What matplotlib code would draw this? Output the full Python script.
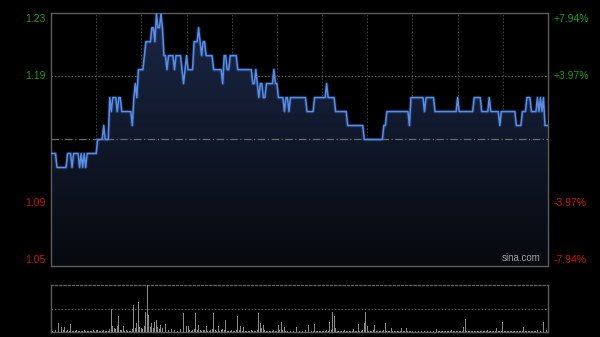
import numpy as np
import matplotlib
matplotlib.use("Agg")
import matplotlib.pyplot as plt
from matplotlib.colors import LinearSegmentedColormap

# === Data (one trading day, 1-minute steps, 330 minutes) ===
prev_close = 1.14
pct_levels = [7.94, 3.97, -3.97, -7.94]
price_labels = ["1.23", "1.19", "1.09", "1.05"]
pct_labels = ["+7.94%", "+3.97%", "-3.97%", "-7.94%"]

# price as runs: level, number of minutes
price_levels = [1.13, 1.12, 1.13, 1.12, 1.13, 1.12, 1.13, 1.12, 1.13, 1.12,
                1.13, 1.14, 1.15, 1.14, 1.17, 1.16, 1.17, 1.16, 1.17, 1.16,
                1.15, 1.17, 1.18, 1.17, 1.19, 1.20, 1.21, 1.22, 1.21, 1.23,
                1.22, 1.23, 1.22, 1.20, 1.19, 1.20, 1.19, 1.20, 1.19, 1.18,
                1.19, 1.20, 1.19, 1.21, 1.22, 1.21, 1.20, 1.21, 1.20, 1.19,
                1.18, 1.20, 1.19, 1.20, 1.19, 1.18, 1.19, 1.18, 1.17, 1.18,
                1.17, 1.18, 1.19, 1.18, 1.17, 1.16, 1.17, 1.16, 1.17, 1.16,
                1.17, 1.18, 1.17, 1.16, 1.15, 1.14, 1.15, 1.16, 1.15, 1.17,
                1.16, 1.17, 1.16, 1.17, 1.16, 1.17, 1.16, 1.17, 1.16, 1.15,
                1.16, 1.15, 1.16, 1.17, 1.16, 1.17, 1.16, 1.17, 1.16, 1.17,
                1.15]
price_runs = [4, 7, 3, 1, 4, 1, 1, 1, 1, 1,
              7, 4, 1, 3, 1, 1, 3, 1, 2, 7,
              1, 1, 1, 1, 4, 1, 4, 2, 1, 1,
              2, 1, 1, 2, 1, 4, 1, 4, 1, 1,
              1, 1, 4, 3, 1, 1, 1, 2, 5, 6,
              1, 2, 2, 5, 10, 2, 1, 1, 1, 2,
              2, 5, 1, 2, 4, 1, 2, 1, 11, 5,
              8, 1, 5, 8, 11, 13, 2, 15, 1, 9,
              1, 6, 15, 1, 10, 5, 5, 1, 6, 1,
              10, 4, 3, 3, 4, 1, 1, 1, 1, 1,
              3]

# volume per minute (relative units, max = 100)
volume = [27, 3, 2, 4, 3, 19, 3, 11, 4, 11,
          3, 5, 2, 17, 3, 2, 3, 4, 2, 3,
          2, 3, 4, 2, 3, 2, 3, 2, 4, 3,
          5, 4, 3, 2, 3, 4, 3, 2, 3, 6,
          50, 12, 8, 6, 12, 34, 5, 4, 12, 3,
          4, 3, 2, 3, 6, 57, 8, 20, 63, 10,
          8, 6, 12, 43, 100, 36, 10, 20, 8, 22,
          25, 10, 6, 15, 8, 61, 18, 6, 5, 12,
          6, 12, 4, 5, 3, 4, 6, 5, 40, 6,
          13, 13, 4, 3, 5, 6, 40, 5, 15, 4,
          3, 5, 4, 12, 3, 2, 4, 6, 41, 5,
          3, 12, 3, 4, 6, 4, 26, 3, 2, 3,
          4, 2, 3, 5, 34, 4, 12, 3, 10, 3,
          2, 3, 2, 4, 3, 2, 3, 5, 41, 20,
          8, 15, 4, 3, 2, 3, 2, 3, 4, 2,
          3, 15, 4, 22, 5, 10, 3, 2, 4, 3,
          15, 3, 2, 10, 3, 2, 3, 2, 3, 4,
          3, 15, 3, 2, 3, 16, 3, 2, 3, 2,
          3, 2, 3, 4, 3, 22, 4, 43, 35, 8,
          3, 2, 3, 2, 3, 4, 2, 3, 2, 3,
          2, 6, 3, 2, 16, 3, 2, 4, 20, 43,
          13, 3, 2, 3, 4, 14, 3, 2, 3, 2,
          3, 4, 20, 3, 2, 3, 8, 2, 3, 2,
          3, 2, 3, 9, 2, 3, 8, 2, 3, 2,
          3, 2, 3, 2, 3, 2, 3, 2, 3, 2,
          3, 14, 2, 3, 2, 3, 6, 2, 3, 2,
          3, 2, 3, 2, 3, 2, 4, 2, 3, 2,
          3, 2, 3, 2, 10, 27, 3, 2, 3, 2,
          3, 2, 3, 2, 3, 2, 3, 2, 3, 2,
          4, 2, 3, 2, 3, 2, 8, 2, 3, 2,
          22, 3, 2, 3, 2, 3, 2, 3, 2, 3,
          2, 3, 2, 3, 10, 2, 3, 2, 3, 2,
          3, 2, 3, 4, 6, 3, 8, 22, 14, 4,
          3]

price = np.repeat(price_levels, price_runs)
minutes = np.arange(len(price))
n_min = 330

hi = prev_close * (1 + pct_levels[0] / 100)
lo = prev_close * (1 + pct_levels[-1] / 100)

fig = plt.figure(figsize=(6, 3.37), dpi=100, facecolor="black")
ax = fig.add_axes([51 / 600, 1 - 266 / 337, 497 / 600, 253 / 337])
axv = fig.add_axes([51 / 600, 1 - 332 / 337, 497 / 600, 47 / 337])

green = "#0ea00e"
red = "#d01010"

# --- price panel ---
ax.set_facecolor("black")
ax.set_xlim(0, n_min)
ax.set_ylim(lo, hi)

for m in range(30, n_min, 30):
    ax.axvline(m, color="#3a3a3a", lw=0.8, ls=(0, (1.5, 1.5)), zorder=1)
for p in pct_levels[1:3]:
    ax.axhline(prev_close * (1 + p / 100), color="#5a5a5a", lw=0.8,
               ls=(0, (1.5, 1.5)), zorder=1)
ax.axhline(prev_close, color="#6a6a6a", lw=0.9, ls=(0, (6, 2, 1, 2)), zorder=3)

# gradient fill under the line
poly = ax.fill_between(minutes, price, lo, color="none")
cmap = LinearSegmentedColormap.from_list("fill", ["#07090e", "#1a2746"])
grad = np.linspace(0, 1, 256).reshape(-1, 1)
img = ax.imshow(grad, extent=[0, n_min, lo, price.max()], origin="lower",
                aspect="auto", cmap=cmap, zorder=2)
img.set_clip_path(poly.get_paths()[0], transform=ax.transData)
ax.set_ylim(lo, hi)

ax.plot(minutes, price, color="#2f5fb0", lw=2.6, alpha=0.35, zorder=4)
ax.plot(minutes, price, color="#5a8ee6", lw=1.1, zorder=5)

ax.set_xticks([])
ax.set_yticks([])
for s in ax.spines.values():
    s.set_color("#5c5c5c")
    s.set_linewidth(1.0)

# axis labels drawn as text
for i, p in enumerate(pct_levels):
    yv = prev_close * (1 + p / 100)
    col = green if p > 0 else red
    va = "center"
    off = 0
    if i == 0:
        off = -6
    elif i == len(pct_levels) - 1:
        off = 6
    ax.annotate(price_labels[i], xy=(0, yv), xycoords=("axes fraction", "data"),
                xytext=(-4, off * 0.75), textcoords="offset points",
                ha="right", va=va, color=col, fontsize=7.5,
                family="Liberation Sans")
    ax.annotate(pct_labels[i], xy=(1, yv), xycoords=("axes fraction", "data"),
                xytext=(4, off * 0.75), textcoords="offset points",
                ha="left", va=va, color=col, fontsize=7.5,
                family="Liberation Sans")

ax.text(0.985, 0.012, "sina.com", transform=ax.transAxes, ha="right",
        va="bottom", color="#a0a0a0", fontsize=7, family="Liberation Sans",
        zorder=6)

# --- volume panel ---
axv.set_facecolor("black")
axv.set_xlim(0, n_min)
axv.set_ylim(0, max(volume))
axv.bar(minutes, volume, width=0.6, color="#8a8a8a", zorder=3)
axv.axhline(max(volume) / 2, color="#5a5a5a", lw=0.8, ls=(0, (1.5, 1.5)))
axv.set_xticks([])
axv.set_yticks([])
for name, s in axv.spines.items():
    s.set_color("#5c5c5c")
    s.set_linewidth(1.0)
axv.spines["top"].set_linestyle((0, (1.5, 1.5)))

fig.savefig("out.png", dpi=100, facecolor="black")
